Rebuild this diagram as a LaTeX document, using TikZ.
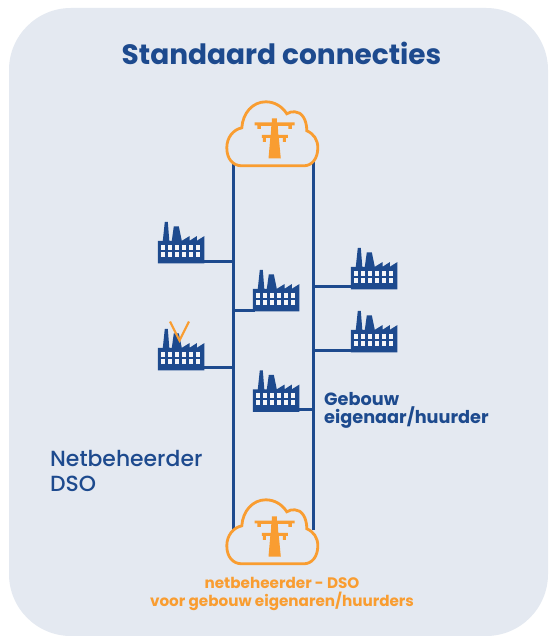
\documentclass[tikz,border=0pt]{standalone}
\usepackage{fontspec}
\setmainfont{Poppins}
\newfontfamily\medfont{Poppins Medium}
\definecolor{dsoblue}{HTML}{1D4A8E}
\definecolor{dsoorange}{HTML}{F99D31}
\definecolor{panelgrey}{HTML}{E4E9F1}
\tikzset{
  wire/.style={draw=dsoblue,line width=3pt},
  stub/.style={wire,shorten >=-2pt,shorten <=-2pt},
  factorybox/.style={inner sep=0pt,minimum width=46.5pt,minimum height=41.5pt},
  cloudbox/.style={inner sep=0pt,minimum width=93pt,minimum height=66pt},
  factory/.pic={
    \fill[dsoblue] (0,41.5) -- (0,19) -- (5,19) -- (7,0) -- (10,0) -- (11.5,19) -- (14,19) -- (16,4.5) -- (21,4.5) -- (24,19)
      -- (31.7,14.3) -- (31.7,19) -- (39,14.3) -- (39,19) -- (46.5,14.3) -- (46.5,41.5) -- cycle;
    \foreach \col in {0,...,5}
      \foreach \row in {0,1}
        \fill[panelgrey!40!white] (2.8+7*\col,23+7*\row) rectangle +(4.8,4.8);
  },
  cloud/.pic={
    \draw[draw=dsoorange,fill=panelgrey,line width=2.8pt] (16,65) .. controls (7,65) and (1,58) .. (1,47)
      .. controls (1,37) and (7,29) .. (16,27) .. controls (17,12) and (27,1) .. (40,1)
      .. controls (48,1) and (56,5) .. (61,13) .. controls (64,11) and (66,11) .. (69,11)
      .. controls (76,11) and (81,19) .. (81,30) .. controls (88,33) and (92,39) .. (92,47)
      .. controls (92,58) and (86,65) .. (78,65) -- cycle;
    \fill[dsoorange] (46,17.5) -- (51,17.5) -- (51,21.7) -- (68.7,21.7) -- (68.7,24.5) -- (66,24.5) -- (66,28) -- (62.5,28)
      -- (62.5,25) -- (52,25) -- (52.5,34) -- (62,34) -- (62,37) -- (60,37) -- (60,41) -- (57,41) -- (57,37) -- (53,37)
      -- (55,57.7) -- (42.7,57.7) -- (44.5,37) -- (40,37) -- (40,41) -- (37,41) -- (37,37) -- (36,37) -- (36,34) -- (45,34)
      -- (45.5,25) -- (35,25) -- (35,28) -- (31.5,28) -- (31.5,24.5) -- (28.7,24.5) -- (28.7,21.7) -- (46,21.7) -- cycle;
  }
}

\begin{document}
\begin{tikzpicture}[x=1pt,y=-1pt]
\useasboundingbox (0,0) rectangle (548,636);
\fill[white] (0,0) rectangle (548,636);
\node[fill=panelgrey,rounded corners=62pt,inner sep=0pt,minimum width=539pt,minimum height=628pt] (panel) at (278.5,322) {};

\node[font=\bfseries\fontsize{28}{32}\selectfont,text=dsoblue] (title) at (281.5,53) {Standaard connecties};

\node[cloudbox] (cloudtop) at (272.5,134) {};
\node[cloudbox] (cloudbottom) at (272.5,532) {};
\node[factorybox] (left1) at (181.25,242.75) {};
\node[factorybox] (left2) at (181.25,349.75) {};
\node[factorybox] (mid1) at (276.25,290.75) {};
\node[factorybox] (mid2) at (276.25,391.25) {};
\node[factorybox] (right1) at (374.25,268.75) {};
\node[factorybox] (right2) at (374.25,331.75) {};

\coordinate (bus1top) at (233.5,150);
\coordinate (bus1bottom) at (233.5,530);
\coordinate (bus2top) at (313,150);
\coordinate (bus2bottom) at (313,530);
\coordinate (j1) at (232.5,261);
\coordinate (j2) at (234.5,310);
\coordinate (j3) at (232.5,367);
\coordinate (j4) at (312,409);
\coordinate (j5) at (314,286);
\coordinate (j6) at (314,350);

\path[wire]
(bus1top) -- (bus1bottom)
(bus2top) -- (bus2bottom);
\draw[stub] (left1.east |- j1) -- (j1);
\draw[stub] (j2) -- (j2 -| mid1.west);
\draw[stub] (left2.east |- j3) -- (j3);
\draw[stub] (mid2.east |- j4) -- (j4);
\draw[stub] (j5) -- (j5 -| right1.west);
\draw[stub] (j6) -- (j6 -| right2.west);

\pic at (cloudtop.north west) {cloud};
\pic at (cloudbottom.north west) {cloud};
\pic at (left1.north west) {factory};
\pic at (left2.north west) {factory};
\pic at (mid1.north west) {factory};
\pic at (mid2.north west) {factory};
\pic at (right1.north west) {factory};
\pic at (right2.north west) {factory};

\draw[dsoorange,line width=2.2pt] (170,321.5) -- (179.5,340.5) -- (189,321.5);

\node[font=\medfont\fontsize{21.9}{25}\selectfont,text=dsoblue,align=left,anchor=west,inner sep=0pt] (dso) at (50,470.5) {Netbeheerder\\DSO};
\node[font=\bfseries\fontsize{17.7}{16}\selectfont,text=dsoblue,align=left,anchor=west,inner sep=0pt] (owner) at (324,410) {Gebouw\\eigenaar/huurder};
\node[font=\bfseries\fontsize{15.2}{18}\selectfont,text=dsoorange,align=center,inner sep=0pt] (caption) at (282,594) {netbeheerder - DSO\\voor gebouw eigenaren/huurders};
\end{tikzpicture}
\end{document}
